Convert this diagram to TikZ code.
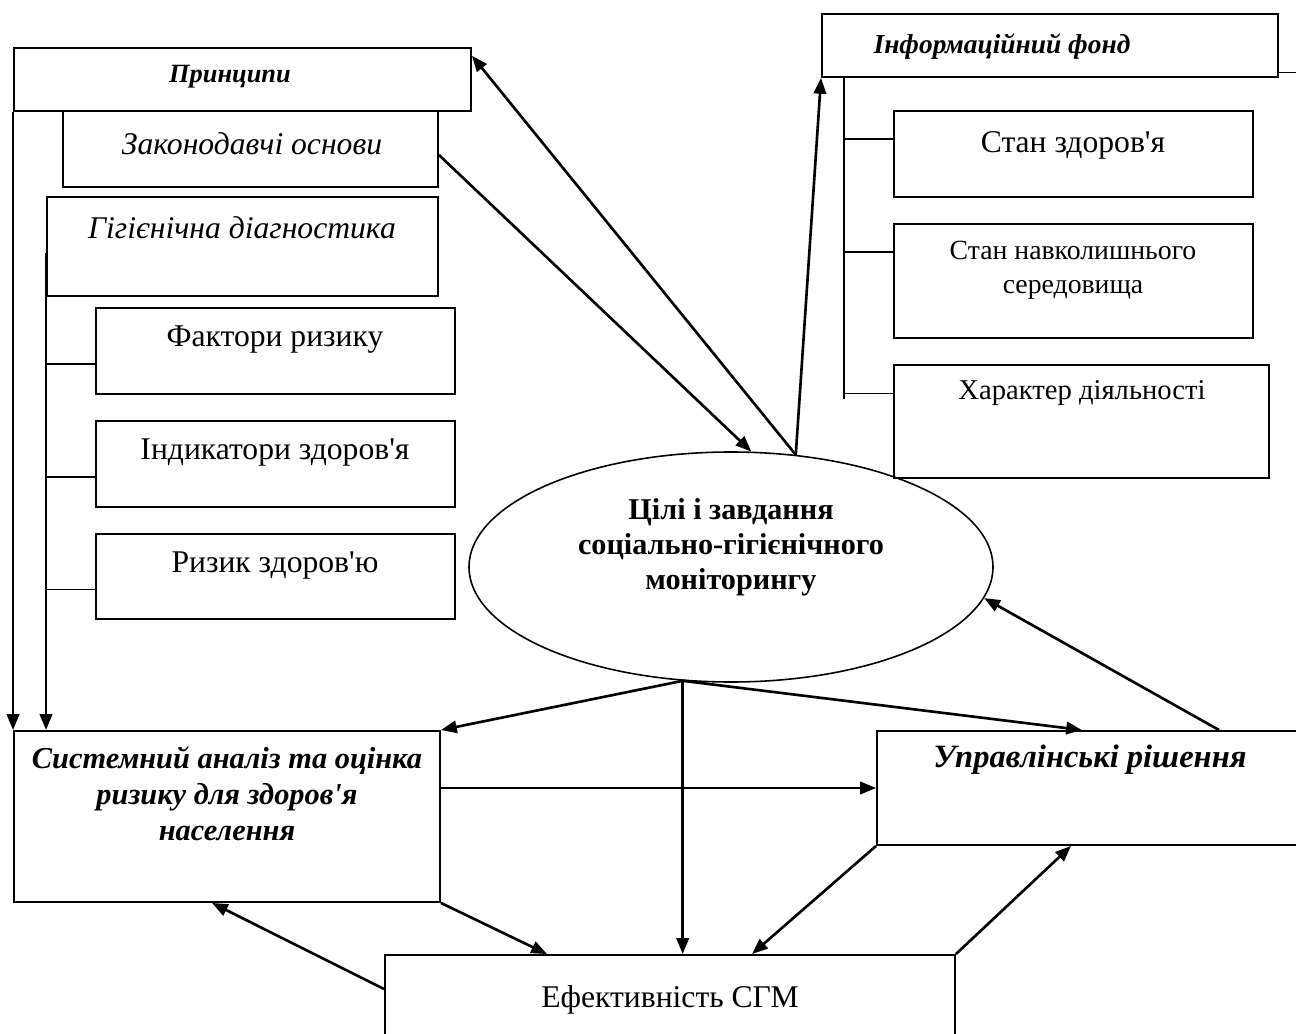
\documentclass[tikz,border=0pt]{standalone}
\usepackage{fontspec}
\setmainfont{Liberation Serif}
\usetikzlibrary{shapes.geometric,arrows.meta,calc}

\newcommand{\apo}{\textquotesingle}

\tikzset{
  bx/.style 2 args={draw, line width=1.1pt, minimum width=#1*0.02cm, minimum height=#2*0.02cm, inner sep=0pt},
  arr/.style={line width=1.5pt, -{Triangle[length=9pt,width=7pt]}},
  ln/.style={line width=1.1pt},
  big/.style={font=\fontsize{18}{21}\selectfont, inner sep=0pt},
  mid/.style={font=\fontsize{15.8}{19.5}\selectfont, inner sep=0pt, align=center},
  head/.style={font=\fontsize{15}{18}\selectfont\bfseries\itshape, inner sep=0pt},
  bold/.style={font=\fontsize{17.3}{20.5}\selectfont\bfseries\itshape, inner sep=0pt, align=center}
}

\begin{document}
\begin{tikzpicture}[x=0.02cm, y=-0.02cm]
\clip (0,0) rectangle (1296,1034);

\node[bx={457}{63}] (prin) at (242.5,79.5) {};
\node[bx={375}{76}] (zak) at (250.5,149) {};
\node[bx={391}{99}] (gig) at (242.5,246.5) {};
\node[bx={359}{86}] (fakt) at (275.5,351) {};
\node[bx={359}{86}] (ind) at (275.5,464) {};
\node[bx={359}{85}] (ryz) at (275.5,576.5) {};
\node[bx={456}{63}] (info) at (1050,45.5) {};
\node[bx={359}{86}] (stz) at (1073.5,154) {};
\node[bx={359}{114}] (stn) at (1073.5,281) {};
\node[bx={375}{113}] (khar) at (1081.5,421.5) {};
\node[bx={426}{171}] (sys) at (227,816.5) {};
\node[bx={433}{114}] (upr) at (1093.5,788) {};
\node[bx={570}{105}] (eff) at (670,1007.5) {};
\node[draw, ellipse, line width=0.9pt, minimum width=524*0.02cm, minimum height=230*0.02cm] (goal) at (731,567) {};

\node[head] (tprin) at (230,77) {Принципи};
\node[big, font=\fontsize{18}{21}\selectfont\itshape] (tzak) at (252,144) {Законодавчі основи};
\node[big, font=\fontsize{18}{21}\selectfont\itshape] (tgig) at (242,228) {Гігієнічна діагностика};
\node[big] (tfakt) at (275,340) {Фактори ризику};
\node[big] (tind) at (275,453) {Індикатори здоров\apo я};
\node[big] (tryz) at (275,566) {Ризик здоров\apo ю};
\node[head, font=\fontsize{15.6}{18}\selectfont\bfseries\itshape] (tinfo) at (1002,47) {Інформаційний фонд};
\node[big] (tstz) at (1073,145) {Стан здоров\apo я};
\node[mid] (tstn) at (1073,270) {Стан навколишнього\\середовища};
\node[big, font=\fontsize{16.3}{19}\selectfont] (tkhar) at (1082,393) {Характер діяльності};
\node[font=\fontsize{17.2}{20}\selectfont\bfseries, align=center, inner sep=0pt] (tgoal) at (731,547) {Цілі і завдання\\соціально-гігієнічного\\моніторингу};
\node[bold] (tsys) at (227,794) {Системний аналіз та оцінка\\ризику для здоров\apo я\\населення};
\node[bold, font=\fontsize{18.5}{22}\selectfont\bfseries\itshape] (tupr) at (1090,760) {Управлінські рішення};
\node[big] (teff) at (670,1000) {Ефективність СГМ};

\draw[arr] (prin.south west) -- (sys.north west);
\draw[arr] ($(gig.west)+(0,6)$) -- (gig.west |- sys.north);
\foreach \b in {fakt,ind,ryz}
  \draw[ln] ($(\b.west)+(0,13)$) -- ($(\b.west)+(-49,13)$);
\draw[ln] ($(info.south west)+(23,0)$) -- ++(0,321);
\foreach \b/\d in {stz/-15,stn/-29,khar/-28}
  \draw[ln] ($(\b.west)+(0,\d)$) -- ++(-49,0);
\draw[ln] ($(info.east)+(0,27)$) -- ++(25,0);

\draw[arr] ($(zak.east)+(0,6)$) -- (goal.80);
\draw[arr] (goal.60) -- ([yshift=-5pt]prin.north east);
\draw[arr] (goal.60) -- (info.south west);
\draw[arr] (goal.247) -- (sys.north east);
\draw[arr] (goal.247) -- (goal.247 |- eff.north);
\draw[arr] (goal.247) -- ($(upr.north west)+(206,0)$);
\draw[arr] ($(upr.north west)+(343,0)$) -- (goal.353);
\draw[arr] (upr.west -| sys.east) -- (upr.west);
\draw[arr] (sys.south east) -- ($(eff.north west)+(163,0)$);
\draw[arr] ($(eff.north west)+(0,35)$) -- ($(sys.south west)+(199,0)$);
\draw[arr] (upr.south west) -- ($(eff.north west)+(368,0)$);
\draw[arr] (eff.north east) -- ($(upr.south west)+(195,0)$);
\end{tikzpicture}
\end{document}
